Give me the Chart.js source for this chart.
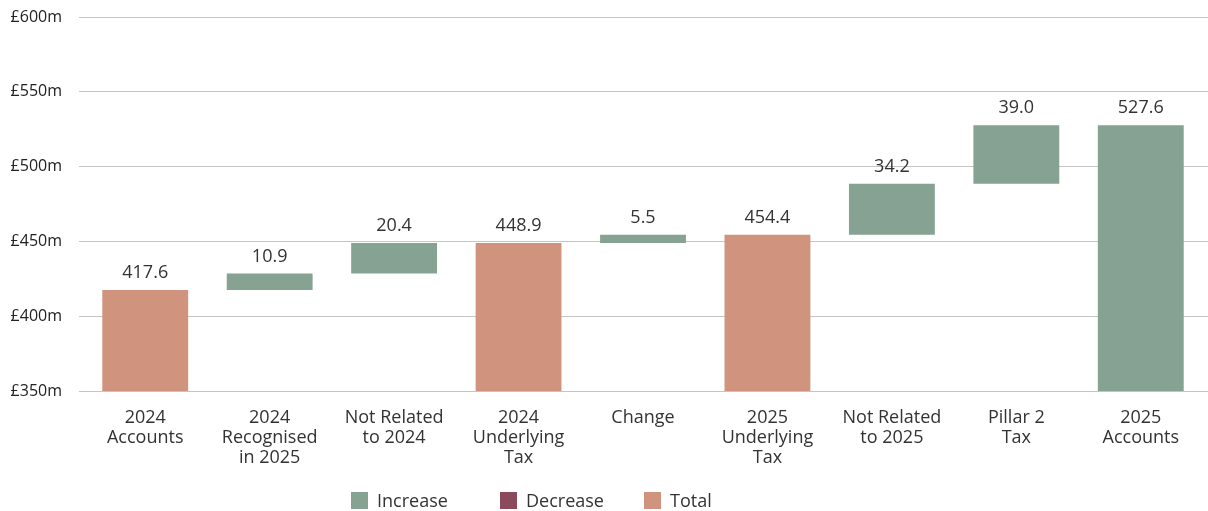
<!DOCTYPE html>
<html>
<head>
<meta charset="utf-8">
<script src="https://cdn.jsdelivr.net/npm/chart.js@4"></script>
<style>
  html, body { margin: 0; padding: 0; background: #fff; }
  #wrap { position: relative; width: 1208px; height: 511px; }
  #legend { position: absolute; top: 489px; left: 0; width: 1208px; height: 22px;
            font-family: 'Open Sans', sans-serif; font-size: 18px; color: #333; }
  #legend .item { position: absolute; top: 0; display: flex; align-items: center; height: 22px; }
  #legend .box { width: 17px; height: 17px; margin-right: 9px; }
</style>
</head>
<body>
<div id="wrap">
  <canvas id="chart" width="1208" height="511"></canvas>
  <div id="legend"></div>
</div>
<script>
// waterfall data
const categories = [
    ['2024', 'Accounts'],
    ['2024', 'Recognised', 'in 2025'],
    ['Not Related', 'to 2024'],
    ['2024', 'Underlying', 'Tax'],
    ['Change'],
    ['2025', 'Underlying', 'Tax'],
    ['Not Related', 'to 2025'],
    ['Pillar 2', 'Tax'],
    ['2025', 'Accounts']
];
const values = [417.6, 10.9, 20.4, 448.9, 5.5, 454.4, 34.2, 39.0, 527.6];
// total = bar from axis, step = change from running total, end = final total
const kinds = ['total', 'step', 'step', 'total', 'step', 'total', 'step', 'step', 'end'];
const yTicks = [350, 400, 450, 500, 550, 600];

const legendNames = ['Increase', 'Decrease', 'Total'];
const colors = { Increase: '#86a293', Decrease: '#8b4a5c', Total: '#d0937e' };

const yMin = yTicks[0];
const yMax = yTicks[yTicks.length - 1];

// build floating bars from the running total
let run = 0;
const bars = [];
const barColors = [];
values.forEach((v, i) => {
    if (kinds[i] === 'step') {
        bars.push([run, run + v]);
        run += v;
        barColors.push(v >= 0 ? colors.Increase : colors.Decrease);
    } else {
        bars.push([yMin, v]);
        run = v;
        barColors.push(kinds[i] === 'end' ? colors.Increase : colors.Total);
    }
});

Chart.defaults.font.family = "'Open Sans', sans-serif";
Chart.defaults.font.size = 16;
Chart.defaults.color = '#333';

const valueLabels = {
    id: 'valueLabels',
    afterDatasetsDraw(chart) {
        const ctx = chart.ctx;
        const meta = chart.getDatasetMeta(0);
        ctx.save();
        ctx.font = "18px 'Open Sans', sans-serif";
        ctx.fillStyle = '#333';
        ctx.textAlign = 'center';
        ctx.textBaseline = 'middle';
        meta.data.forEach((bar, i) => {
            const top = Math.min(bar.y, bar.base);
            ctx.fillText(values[i].toFixed(1), bar.x, top - 17);
        });
        ctx.restore();
    }
};

// gridlines run a little past the plot area on the right
const gridTail = {
    id: 'gridTail',
    beforeDatasetsDraw(chart) {
        const ctx = chart.ctx;
        const y = chart.scales.y;
        ctx.save();
        ctx.strokeStyle = '#c4c4c4';
        ctx.lineWidth = 1;
        y.ticks.forEach(t => {
            const py = Math.floor(y.getPixelForValue(t.value)) + 0.5;
            ctx.beginPath();
            ctx.moveTo(chart.chartArea.right - 1, py);
            ctx.lineTo(chart.width, py);
            ctx.stroke();
        });
        ctx.restore();
    }
};

new Chart(document.getElementById('chart'), {
    type: 'bar',
    data: {
        labels: categories,
        datasets: [{
            data: bars,
            backgroundColor: barColors,
            borderWidth: 0,
            barPercentage: 0.69,
            categoryPercentage: 1
        }]
    },
    options: {
        responsive: false,
        animation: false,
        layout: { padding: { top: 17, left: 10, right: 5, bottom: 26 } },
        plugins: {
            legend: { display: false },
            tooltip: { enabled: false }
        },
        scales: {
            x: {
                grid: { display: false, drawTicks: false },
                border: { display: false },
                ticks: { color: '#333', padding: 17, font: { size: 18, lineHeight: 1.11 } }
            },
            y: {
                min: yMin,
                max: yMax,
                border: { display: false },
                grid: { color: '#c4c4c4', tickLength: 4, tickColor: '#c4c4c4' },
                afterBuildTicks: s => { s.ticks = yTicks.map(v => ({ value: v })); },
                afterFit: s => { s.width = 73; s.paddingTop = 0; s.paddingBottom = 0; },
                ticks: {
                    color: '#222',
                    padding: 17,
                    font: { size: 16 },
                    callback: v => '£' + v + 'm'
                }
            }
        }
    },
    plugins: [valueLabels, gridTail]
});

// html legend
const legendPos = [351, 500, 644];
const legend = document.getElementById('legend');
legendNames.forEach((name, i) => {
    const item = document.createElement('div');
    item.className = 'item';
    item.style.left = legendPos[i] + 'px';
    item.innerHTML = '<span class="box" style="background:' + colors[name] + '"></span>' + name;
    legend.appendChild(item);
});
</script>
</body>
</html>
